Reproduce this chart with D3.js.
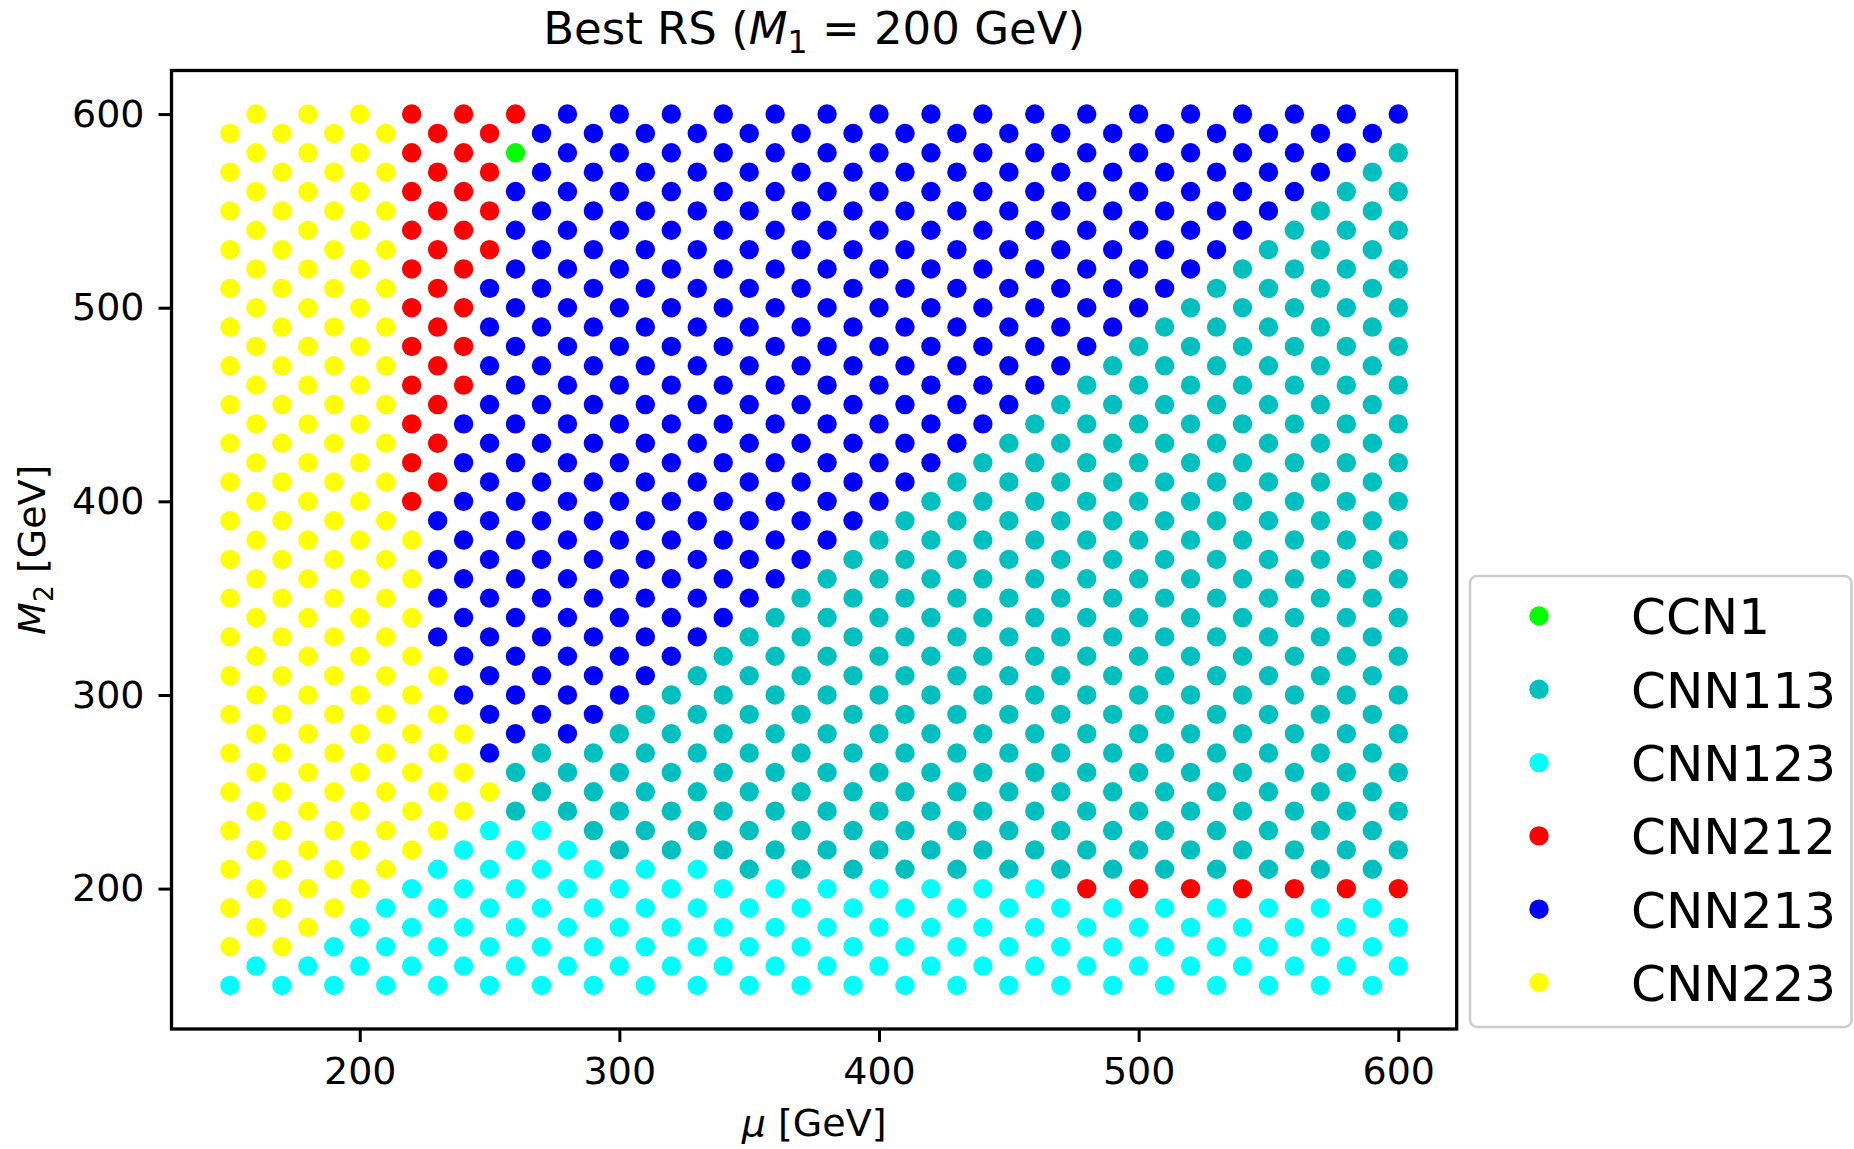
<!DOCTYPE html>
<html><head><meta charset="utf-8">
<script src="https://cdn.jsdelivr.net/npm/d3@7"></script>
<style>body{margin:0;background:#fff} text{font-family:"DejaVu Sans",sans-serif;fill:#000}</style>
</head><body>
<svg id="c" width="1854" height="1149"></svg>
<script>
// ---- data ----
const categories = ["CCN1","CNN113","CNN123","CNN212","CNN213","CNN223"];
const codes      = ["G","T","C","R","B","Y"];
const colors     = ["#00ff00","#00bfbf","#00ffff","#ff0000","#0000ff","#ffff00"];
const muValues = [150,160,170,180,190,200,210,220,230,240,250,260,270,280,290,300,310,320,330,340,350,360,370,380,390,400,410,420,430,440,450,460,470,480,490,500,510,520,530,540,550,560,570,580,590,600];
// M2 values present in a column (staggered lattice)
const m2OddColumns  = [150,170,190,210,230,250,270,290,310,330,350,370,390,410,430,450,470,490,510,530,550,570,590];
const m2EvenColumns = [160,180,200,220,240,260,280,300,320,340,360,380,400,420,440,460,480,500,520,540,560,580,600];
// class of each point, bottom to top, run-length coded per mu column
const columnRuns = ["C1 Y22","C1 Y22","C1 Y22","C1 Y22","C2 Y21","C2 Y21","C3 Y20","C3 Y9 R11","C4 Y5 B4 R10","C4 Y3 B8 R8","C5 Y1 B13 R4","C4 T2 B15 G1 R1",
  "C5 T2 B16","C4 T2 B17","C4 T3 B16","C3 T4 B16","C4 T4 B15","C3 T5 B15","C4 T5 B14","C3 T6 B14","C3 T7 B13","C3 T7 B13","C3 T8 B12","C3 T8 B12",
  "C3 T9 B11","C3 T9 B11","C3 T10 B10","C3 T10 B10","C3 T11 B9","C3 T11 B9","C3 T12 B8","C3 T12 B8","C3 T13 B7",
  "C2 R1 T13 B7","C3 T14 B6","C2 R1 T14 B6","C3 T15 B5","C2 R1 T15 B5","C3 T16 B4","C2 R1 T16 B4","C3 T17 B3","C2 R1 T17 B3","C3 T18 B2","C2 R1 T18 B2","C3 T19 B1","C2 R1 T19 B1"];
const xTicks = [200,300,400,500,600];
const yTicks = [200,300,400,500,600];
const xDomain = [127.5, 622.5];
const yDomain = [127.5, 622.5];

// ---- build point table ----
const points = [];
muValues.forEach((mu, i) => {
  const m2s = ((mu / 10) % 2 === 1) ? m2OddColumns : m2EvenColumns;
  const cls = [];
  columnRuns[i].split(" ").forEach(tok => {
    const code = tok[0], n = +tok.slice(1);
    for (let k = 0; k < n; k++) cls.push(code);
  });
  m2s.forEach((m2, j) => points.push({mu, m2, code: cls[j]}));
});

const svg = d3.select("#c");
const L = 171.5, R = 1456.7, T = 70.5, B = 1029;
const x = d3.scaleLinear().domain(xDomain).range([L, R]);
const y = d3.scaleLinear().domain(yDomain).range([B, T]);
const color = d3.scaleOrdinal().domain(codes).range(colors);

svg.append("rect").attr("width",1854).attr("height",1149).attr("fill","#fff");

// points
svg.append("g").selectAll("circle").data(points).join("circle")
  .attr("cx", d => x(d.mu)).attr("cy", d => y(d.m2)).attr("r", 9.7)
  .attr("fill", d => color(d.code));

// frame
svg.append("rect").attr("x",L).attr("y",T).attr("width",R-L).attr("height",B-T)
  .attr("fill","none").attr("stroke","#000").attr("stroke-width",3.3);

// axes
const gx = svg.append("g").attr("transform",`translate(0,${B})`)
  .call(d3.axisBottom(x).tickValues(xTicks).tickSize(13).tickPadding(15).tickFormat(d3.format("d")));
const gy = svg.append("g").attr("transform",`translate(${L},0)`)
  .call(d3.axisLeft(y).tickValues(yTicks).tickSize(13).tickPadding(14).tickFormat(d3.format("d")));
[gx, gy].forEach(g => {
  g.select(".domain").remove();
  g.selectAll(".tick line").attr("stroke","#000").attr("stroke-width",3);
  g.selectAll(".tick text").attr("font-size",38).attr("font-family","DejaVu Sans").attr("fill","#000");
});

// title
const title = svg.append("text").attr("x", (L+R)/2).attr("y", 44).attr("text-anchor","middle").attr("font-size",45);
title.append("tspan").text("Best RS (");
title.append("tspan").attr("font-style","italic").text("M");
title.append("tspan").attr("font-size",31.5).attr("dy",9).text("1");
title.append("tspan").attr("dy",-9).text(" = 200 GeV)");

// x label
const xl = svg.append("text").attr("x",(L+R)/2).attr("y",1136).attr("text-anchor","middle").attr("font-size",38);
xl.append("tspan").attr("font-style","italic").text("μ");
xl.append("tspan").text(" [GeV]");

// y label
const yl = svg.append("text").attr("transform",`translate(45,${(T+B)/2}) rotate(-90)`).attr("text-anchor","middle").attr("font-size",38);
yl.append("tspan").attr("font-style","italic").text("M");
yl.append("tspan").attr("font-size",26.6).attr("dy",7.5).text("2");
yl.append("tspan").attr("dy",-7.5).text(" [GeV]");

// legend
const lg = svg.append("g");
lg.append("rect").attr("x",1470).attr("y",576).attr("width",381.5).attr("height",451).attr("rx",7)
  .attr("fill","#fff").attr("stroke","#cccccc").attr("stroke-width",2.6);
categories.forEach((c, i) => {
  const cy = 616 + i * 73.3;
  lg.append("circle").attr("cx",1539).attr("cy",cy).attr("r",9.7).attr("fill",colors[i]);
  lg.append("text").attr("x",1631).attr("y",cy + 18.3).attr("font-size",50).text(c);
});
</script>
</body></html>
